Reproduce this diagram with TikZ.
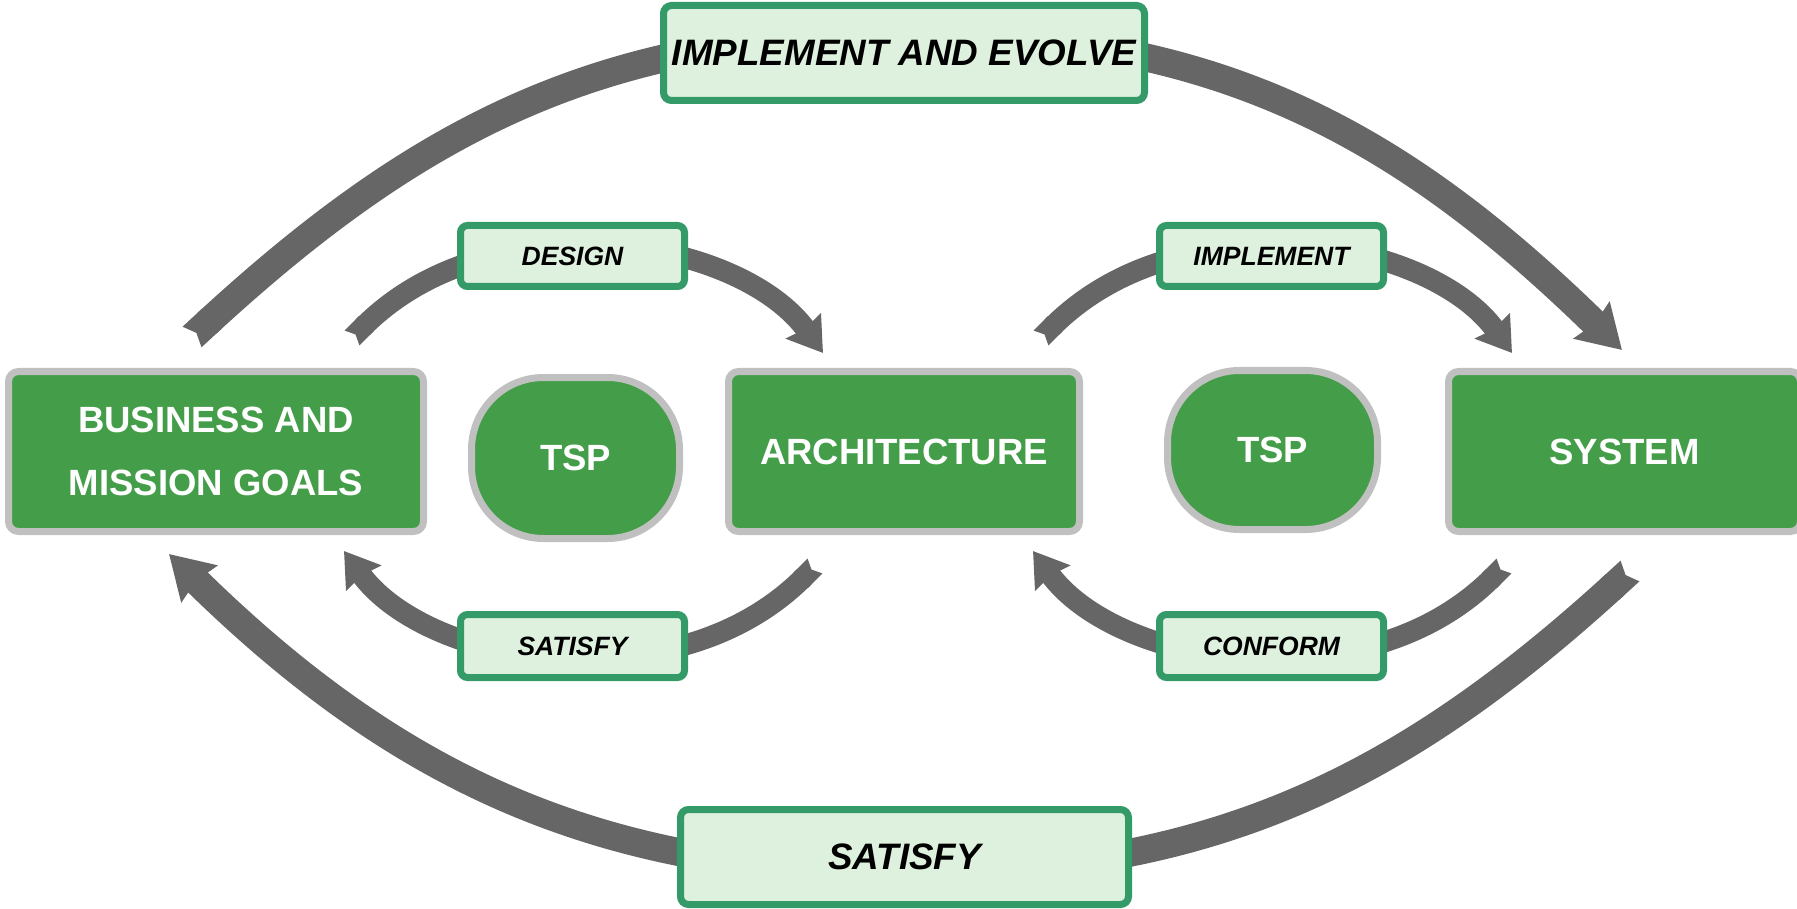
\documentclass[tikz,border=0pt]{standalone}
\usepackage{fontspec}
\setmainfont{Liberation Sans}
\usetikzlibrary{arrows.meta,backgrounds}
\definecolor{boxgreen}{RGB}{68,157,72}
\definecolor{boxgray}{RGB}{192,192,192}
\definecolor{lblfill}{RGB}{222,240,222}
\definecolor{lbledge}{RGB}{52,154,104}
\definecolor{arrgray}{RGB}{102,102,102}
\begin{document}
\begin{tikzpicture}[x=1pt,y=-1pt,
  mainbox/.style={draw=boxgray, line width=7pt, fill=boxgreen, rounded corners=10pt, text=white, font=\fontsize{36.5}{63}\selectfont\bfseries, align=center, inner sep=0pt},
  tspbox/.style={mainbox, rounded corners=72pt},
  biglbl/.style={draw=lbledge, line width=7pt, fill=lblfill, rounded corners=8pt, font=\fontsize{36.8}{44}\selectfont\bfseries\itshape, inner sep=0pt},
  smalllbl/.style={draw=lbledge, line width=7pt, fill=lblfill, rounded corners=7pt, font=\fontsize{26.5}{32}\selectfont\bfseries\itshape, inner sep=0pt},
  bigarrow/.style={draw=arrgray, line width=28pt, {Triangle Cap[reversed,length=6pt]}-{Stealth[length=42pt,width=50pt,inset=4pt]}},
  smallarrow/.style={draw=arrgray, line width=21pt, {Triangle Cap[reversed,length=5pt]}-{Stealth[length=33pt,width=42pt,inset=3pt]}},
]
\useasboundingbox (0,0) rectangle (1797,909);

% main boxes
\node[mainbox, minimum width=415pt, minimum height=160pt] (biz) at (216,451.5) {BUSINESS AND\\MISSION GOALS};
\node[tspbox, minimum width=208pt, minimum height=161pt] (tspL) at (575.5,458) {TSP};
\node[mainbox, minimum width=351pt, minimum height=160pt] (arch) at (904,451.5) {ARCHITECTURE};
\node[tspbox, minimum width=210pt, minimum height=159pt] (tspR) at (1272.5,450) {TSP};
\node[mainbox, minimum width=352pt, minimum height=160pt] (sys) at (1624.5,451.5) {SYSTEM};

% label boxes
\node[biglbl, minimum width=481pt, minimum height=95pt] (ie) at (904,53) {IMPLEMENT AND EVOLVE};
\node[biglbl, minimum width=448pt, minimum height=95pt] (sat) at (904.5,857) {SATISFY};
\node[smalllbl, minimum width=224pt, minimum height=61pt] (des) at (572.5,256) {DESIGN};
\node[smalllbl, minimum width=224pt, minimum height=61pt] (imp) at (1271.5,256) {IMPLEMENT};
\node[smalllbl, minimum width=224pt, minimum height=63pt] (satS) at (572.5,646) {SATISFY};
\node[smalllbl, minimum width=224pt, minimum height=63pt] (conf) at (1271.5,646) {CONFORM};

% arc end points
\coordinate (tTL) at (192,337);
\coordinate (aTop) at (907,33);
\coordinate (hTR) at (1622,350);
\coordinate (tBR) at (1630,571);
\coordinate (aBot) at (907,873);
\coordinate (hBL) at (169,554);
\coordinate (tDes) at (352,338);
\coordinate (aDes) at (590,245);
\coordinate (hDes) at (823,353);
\coordinate (tImp) at (1041,338);
\coordinate (aImp) at (1279,245);
\coordinate (hImp) at (1512,353);
\coordinate (tSat) at (815,566);
\coordinate (aSat) at (577,659);
\coordinate (hSat) at (344,551);
\coordinate (tCon) at (1504,566);
\coordinate (aCon) at (1266,659);
\coordinate (hCon) at (1033,551);

\begin{scope}[on background layer]
\draw[bigarrow] (tTL) .. controls (422,125) and (607,33) .. (aTop) .. controls (1207,33) and (1392,125) .. (hTR);
\draw[bigarrow] (tBR) .. controls (1400,781) and (1210,873) .. (aBot) .. controls (604,873) and (400,781) .. (hBL);
\draw[smallarrow] (tDes) .. controls (420,270) and (500,245) .. (aDes) .. controls (680,245) and (770,280) .. (hDes);
\draw[smallarrow] (tImp) .. controls (1109,270) and (1189,245) .. (aImp) .. controls (1369,245) and (1459,280) .. (hImp);
\draw[smallarrow] (tSat) .. controls (747,634) and (667,659) .. (aSat) .. controls (487,659) and (397,624) .. (hSat);
\draw[smallarrow] (tCon) .. controls (1436,634) and (1356,659) .. (aCon) .. controls (1176,659) and (1086,624) .. (hCon);
\end{scope}
\end{tikzpicture}
\end{document}
